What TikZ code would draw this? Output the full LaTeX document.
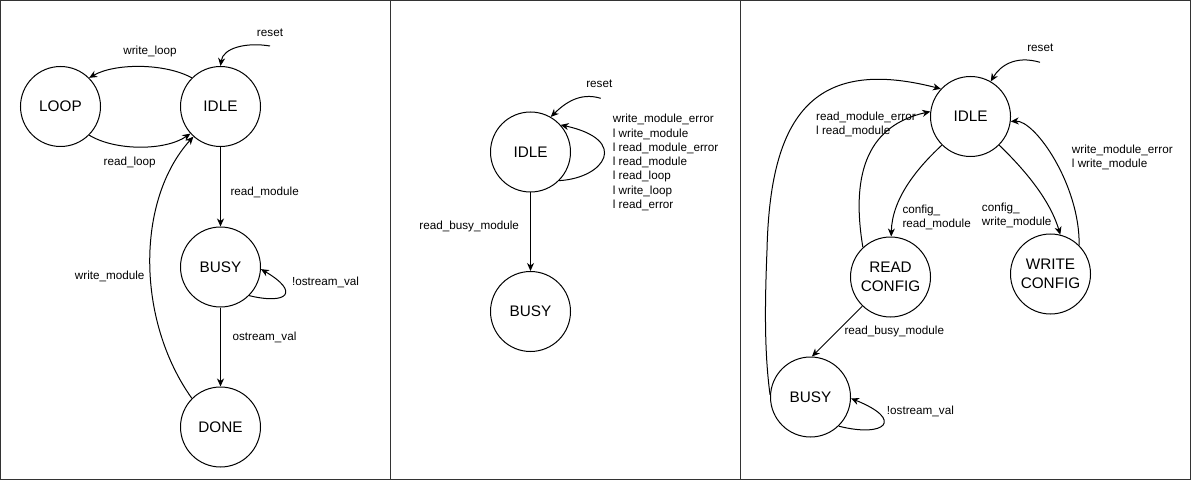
\documentclass[tikz,border=0pt]{standalone}
\usepackage{fontspec}
\setmainfont{Liberation Sans}
\usetikzlibrary{arrows.meta}
\begin{document}
\begin{tikzpicture}[x=1pt,y=-1pt,
  state/.style={draw, circle, minimum size=80pt, inner sep=0pt, line width=1pt, font=\fontsize{15.3}{18.5}\selectfont, align=center},
  lbl/.style={inner sep=0pt, font=\fontsize{11.7}{14.3}\selectfont, align=left},
  edge/.style={draw, line width=1pt, -{Stealth[length=8pt,width=7pt,inset=2.5pt]}},
  frame/.style={draw=black!80, line width=1.2pt}]
\useasboundingbox (0,0) rectangle (1201,481);
\fill[white] (0,0) rectangle (1201,481);
% frame
\draw[frame] (0.6,0.6) rectangle (1190.4,479.6);
\draw[frame] (390.6,0.6) -- (390.6,479.6);
\draw[frame] (740.6,0.6) -- (740.6,479.6);
% panel 1
\node[state] (loop1) at (60.5,106.5) {LOOP};
\node[state] (idle1) at (220.5,106.5) {IDLE};
\node[state] (busy1) at (220.5,267) {BUSY};
\node[state] (done1) at (220.5,427) {DONE};
\coordinate (r1) at (270,46);
\draw[edge] (r1) .. controls (246,42) and (223,48) .. (idle1.north);
\node[lbl] (lr1) at (270,32.3) {reset};
\draw[edge] (idle1.135) .. controls (165,63) and (115,63) .. (loop1.45);
\node[lbl] (lwl1) at (150,51.7) {write\_loop};
\draw[edge] (loop1.-45) .. controls (115,151) and (165,151) .. (idle1.-138);
\node[lbl] (lrl1) at (129.7,162.3) {read\_loop};
\draw[edge] (idle1.south) -- (busy1.north);
\node[lbl] (lrm1) at (264.7,192.3) {read\_module};
\draw[edge] (busy1.-45) .. controls (288,305) and (300,292) .. (busy1.-3);
\node[lbl] (lnos1) at (325.5,282.3) {!ostream\_val};
\draw[edge] (busy1.south) -- (done1.north);
\node[lbl] (los1) at (264.5,337.3) {ostream\_val};
\draw[edge] (done1.135) .. controls (136,320) and (136,200) .. (idle1.-132);
\node[lbl] (lwm1) at (109.7,276.7) {write\_module};
% panel 2
\node[state] (idle2) at (530.5,152) {IDLE};
\node[state] (busy2) at (530.5,311.5) {BUSY};
\coordinate (r2) at (600.7,98.3);
\draw[edge] (r2) .. controls (580,92) and (565,103) .. (idle2.60);
\node[lbl] (lr2) at (599.3,84) {reset};
\draw[edge] (idle2.-45) .. controls (605,178) and (630,140) .. (idle2.42);
\node[lbl, anchor=west] (lself2) at (612.7,162.6) {write\_module\_error\\l write\_module\\l read\_module\_error\\l read\_module\\l read\_loop\\l write\_loop\\l read\_error};
\draw[edge] (idle2.south) -- (busy2.north);
\node[lbl] (lrb2) at (469.2,226.7) {read\_busy\_module};
% panel 3
\node[state] (idle3) at (970.5,116.5) {IDLE};
\node[state] (rc) at (890.5,277) {READ\\CONFIG};
\node[state] (wc) at (1050.5,274) {WRITE\\CONFIG};
\node[state] (busy3) at (810.5,397) {BUSY};
\coordinate (r3) at (1040,62.3);
\draw[edge] (r3) .. controls (1015,55) and (1000,66) .. (idle3.60);
\node[lbl] (lr3) at (1040.3,47.7) {reset};
\coordinate (m3) at (767,250);
\draw[edge] (busy3.177) .. controls (764,350) and (765,300) .. (m3) .. controls (770,120) and (810,55) .. (idle3.137);
\node[lbl, anchor=west] (lrme3) at (816,124.5) {read\_module\_error\\l read\_module};
\draw[edge] (rc.133) .. controls (850,170) and (870,125) .. (idle3.173);
\draw[edge] (idle3.-135) .. controls (915,170) and (892,200) .. (rc.89);
\node[lbl, anchor=west] (lcr3) at (902.3,217.5) {config\_\\read\_module};
\draw[edge] (idle3.-45) .. controls (1025,170) and (1050,200) .. (wc.76);
\node[lbl, anchor=west] (lcw3) at (981.7,215.5) {config\_\\write\_module};
\draw[edge] (wc.45) .. controls (1080,185) and (1035,120) .. (idle3.-7);
\node[lbl, anchor=west] (lwme3) at (1071.7,157.5) {write\_module\_error\\l write\_module};
\draw[edge] (rc.-134) -- (busy3.88);
\node[lbl, anchor=west] (lrb3) at (844.3,331.7) {read\_busy\_module};
\draw[edge] (busy3.-46) .. controls (885,438) and (905,420) .. (busy3.-2);
\node[lbl, anchor=west] (lnos3) at (886.7,411.7) {!ostream\_val};
\end{tikzpicture}
\end{document}
